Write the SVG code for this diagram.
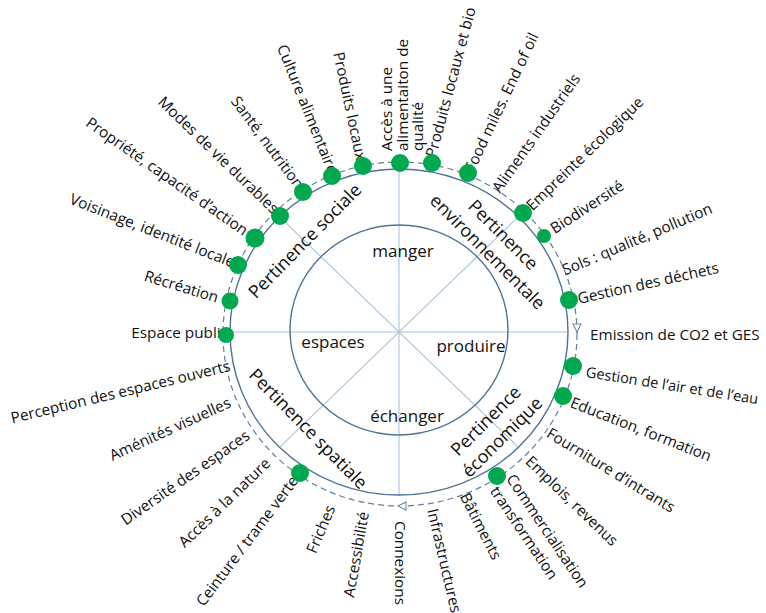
<svg xmlns="http://www.w3.org/2000/svg" width="766" height="613" viewBox="0 0 766 613">
<style>
.lbl{font-family:"Open Sans","Liberation Sans",sans-serif;font-size:15.3px;fill:#111}
.st{text-anchor:start}
.en{text-anchor:end}
.sec{font-family:"Open Sans","Liberation Sans",sans-serif;font-size:18px;fill:#111;text-anchor:middle}
.core{font-family:"Open Sans","Liberation Sans",sans-serif;font-size:17px;fill:#111;text-anchor:middle}
.dot{fill:#00a84f}
.ring{fill:none;stroke:#4f7395;stroke-width:1.4}
.spoke{stroke:#a8c2dc;stroke-width:1.1}
.dash{fill:none;stroke:#5f7f9c;stroke-width:1.2;stroke-dasharray:6 4}
.tri{fill:#fff;stroke:#6a8cab;stroke-width:1.1}
</style>
<defs>
<path id="tri" d="M-4,-4 L4,-4 L0,4 Z"/>
</defs>
<rect width="766" height="613" fill="#fff"/>

<g id="wheel">
<line class="spoke" x1="230" y1="332" x2="568" y2="332"/>
<line class="spoke" x1="399" y1="169" x2="399" y2="495"/>
<line class="spoke" x1="279.5" y1="216.7" x2="518.5" y2="447.3"/>
<line class="spoke" x1="518.5" y1="216.7" x2="279.5" y2="447.3"/>
<ellipse class="ring" cx="399" cy="332" rx="169" ry="163"/>
<ellipse class="ring" cx="399" cy="330" rx="109" ry="105"/>
</g>

<g id="connectors">
<ellipse class="dash" cx="400" cy="334" rx="177" ry="172"/>
<use href="#tri" class="tri" transform="translate(577,328)"/>
<use href="#tri" class="tri" transform="translate(402,506) rotate(90)"/>
</g>

<g id="core">
<text class="core" x="403" y="257">manger</text>
<text class="core" x="333" y="348">espaces</text>
<text class="core" x="471" y="352">produire</text>
<text class="core" x="407" y="422">échanger</text>
</g>

<g id="sections">
<text class="sec" transform="translate(305,241) rotate(-45.5)" dy="6">Pertinence sociale</text>
<g transform="translate(503,235) rotate(45)"><text class="sec" x="0" y="6">Pertinence</text><text class="sec" x="1" y="29">environnementale</text></g>
<text class="sec" transform="translate(308,429) rotate(45.5)" dy="6">Pertinence spatiale</text>
<g transform="translate(486,421) rotate(-45)"><text class="sec" x="0" y="6">Pertinence</text><text class="sec" x="0" y="29">économique</text></g>
</g>

<g id="n-acces-alim"><g transform="translate(387,151) rotate(-90)"><text class="lbl st" x="0" y="5">Accès à une</text><text class="lbl st" x="0" y="20.5">alimentaiton de</text><text class="lbl st" x="0" y="36">qualité</text></g><circle class="dot" cx="400" cy="163" r="9"/></g>
<g id="n-prod-bio"><text class="lbl st" transform="translate(431,157) rotate(-75)" dy="5">Produits locaux et bio</text><circle class="dot" cx="432" cy="163" r="9"/></g>
<g id="n-food-miles"><text class="lbl st" transform="translate(469,171) rotate(-64.5)" dy="5">Food miles. End of oil</text><circle class="dot" cx="468" cy="173" r="9"/></g>
<g id="n-aliments-ind"><text class="lbl st" transform="translate(496,191) rotate(-55)" dy="5">Aliments industriels</text></g>
<g id="n-empreinte"><text class="lbl st" transform="translate(529,208) rotate(-44)" dy="5">Empreinte écologique</text><circle class="dot" cx="523" cy="213" r="9"/></g>
<g id="n-biodiv"><text class="lbl st" transform="translate(552,230) rotate(-33)" dy="5">Biodiversité</text><circle class="dot" cx="544" cy="236" r="7"/></g>
<g id="n-sols"><text class="lbl st" transform="translate(563,271) rotate(-23)" dy="5">Sols : qualité, pollution</text></g>
<g id="n-dechets"><text class="lbl st" transform="translate(578,299) rotate(-12.5)" dy="5">Gestion des déchets</text><circle class="dot" cx="569" cy="300" r="9"/></g>
<g id="n-co2"><text class="lbl st" transform="translate(590,335)" dy="5">Emission de CO2 et GES</text></g>
<g id="n-air-eau"><text class="lbl st" style="font-size:14.6px" transform="translate(586,372) rotate(9)" dy="5">Gestion de l’air et de l’eau</text><circle class="dot" cx="573" cy="366" r="9"/></g>
<g id="n-education"><text class="lbl st" transform="translate(571,402) rotate(21.5)" dy="5">Education, formation</text><circle class="dot" cx="563" cy="396" r="9"/></g>
<g id="n-intrants"><text class="lbl st" transform="translate(548,432) rotate(31.5)" dy="5">Fourniture d’intrants</text></g>
<g id="n-emplois"><text class="lbl st" transform="translate(528,459) rotate(44)" dy="5">Emplois, revenus</text></g>
<g id="n-commerce"><g transform="translate(510,476) rotate(56)"><text class="lbl st" x="0" y="5">Commercialisation</text><text class="lbl st" x="1" y="25.5">transformation</text></g><circle class="dot" cx="497" cy="476" r="9"/></g>
<g id="n-batiments"><text class="lbl st" transform="translate(464,494) rotate(63)" dy="5">Bâtiments</text></g>
<g id="n-infra"><text class="lbl st" transform="translate(432,509) rotate(77)" dy="5">Infrastructures</text></g>
<g id="n-connexions"><text class="lbl st" transform="translate(400,521) rotate(90)" dy="5">Connexions</text></g>
<g id="n-accessibilite"><text class="lbl en" transform="translate(364,512) rotate(-80)" dy="5">Accessibilité</text></g>
<g id="n-friches"><text class="lbl en" transform="translate(331,506) rotate(-67)" dy="5">Friches</text></g>
<g id="n-ceinture"><text class="lbl en" transform="translate(295,478) rotate(-53)" dy="5">Ceinture / trame verte</text><circle class="dot" cx="300" cy="473" r="9"/></g>
<g id="n-acces-nature"><text class="lbl en" transform="translate(268,461) rotate(-44)" dy="5">Accès à la nature</text></g>
<g id="n-diversite"><text class="lbl en" transform="translate(248,434) rotate(-35)" dy="5">Diversité des espaces</text></g>
<g id="n-amenites"><text class="lbl en" transform="translate(230,402) rotate(-24.5)" dy="5">Aménités visuelles</text></g>
<g id="n-perception"><text class="lbl en" transform="translate(230,366) rotate(-13.5)" dy="5">Perception des espaces ouverts</text></g>
<g id="n-espace-public"><text class="lbl en" transform="translate(228,333)" dy="5">Espace public</text><circle class="dot" cx="226" cy="335" r="8"/></g>
<g id="n-recreation"><text class="lbl en" transform="translate(218,298) rotate(17)" dy="5">Récréation</text><circle class="dot" cx="230" cy="301" r="8.5"/></g>
<g id="n-voisinage"><text class="lbl en" transform="translate(234,263) rotate(21.5)" dy="5">Voisinage, identité locale</text><circle class="dot" cx="238" cy="265" r="9"/></g>
<g id="n-propriete"><text class="lbl en" transform="translate(246,232) rotate(35)" dy="5">Propriété, capacité d’action</text><circle class="dot" cx="255" cy="238" r="9.5"/></g>
<g id="n-modes-vie"><text class="lbl en" transform="translate(276,211) rotate(44)" dy="5">Modes de vie durables</text><circle class="dot" cx="280" cy="216" r="9"/></g>
<g id="n-sante"><text class="lbl en" transform="translate(300,187) rotate(53.5)" dy="5">Santé, nutrition</text><circle class="dot" cx="303" cy="192" r="9"/></g>
<g id="n-culture"><text class="lbl en" transform="translate(333,173) rotate(68)" dy="5">Culture alimentaire</text><circle class="dot" cx="332" cy="176" r="9"/></g>
<g id="n-prod-locaux"><text class="lbl en" transform="translate(361,160) rotate(78)" dy="5">Produits locaux</text><circle class="dot" cx="363" cy="166" r="9"/></g>
</svg>
